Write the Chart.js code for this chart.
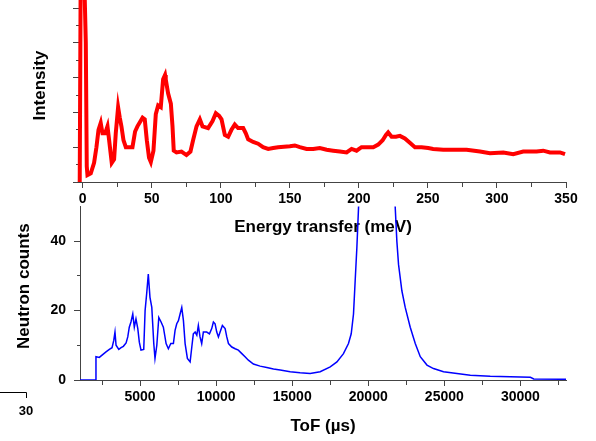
<!DOCTYPE html>
<html>
<head>
<meta charset="utf-8">
<script src="https://cdn.jsdelivr.net/npm/chart.js@4"></script>
<style>
  body { margin: 0; background: #fff; }
  #wrap { position: relative; width: 596px; height: 441px; }
  canvas { position: absolute; left: 0; }
  #chart1 { top: 0; }
  #chart2 { top: 190px; }
</style>
</head>
<body>
<div id="wrap">
  <canvas id="chart1" width="596" height="240"></canvas>
  <canvas id="chart2" width="596" height="251"></canvas>
</div>
<script>
// top panel: energy spectrum
var energy = [
  -2.2, -1.5, 1.0, 2.2, 2.9, 3.4, 5.8, 8.2, 9.9, 11.4,
  13.0, 14.3, 16.2, 17.9, 19.1, 21.0, 22.7, 23.9, 25.6, 26.8,
  28.0, 29.5, 31.2, 33.5, 36.0, 37.9, 39.6, 43.3, 44.9, 46.4,
  48.0, 49.3, 51.2, 52.9, 54.6, 56.5, 58.2, 59.6, 60.1, 61.8,
  63.8, 65.0, 65.9, 67.9, 71.5, 75.1, 78.0, 79.9, 82.4, 84.8,
  86.7, 90.8, 94.0, 96.4, 98.8, 100.5, 102.9, 105.3, 107.7, 110.1,
  112.5, 116.2, 118.1, 119.8, 123.4, 127.0, 130.6, 134.3, 137.9, 141.5,
  150.0, 153.6, 157.2, 162.1, 166.9, 171.7, 176.6, 181.4, 186.2, 191.1,
  194.7, 198.3, 201.9, 206.7, 210.4, 214.0, 217.2, 219.6, 221.2, 223.7,
  226.8, 229.7, 233.3, 236.9, 240.6, 245.4, 250.2, 253.8, 261.1, 268.3,
  278.0, 287.7, 294.9, 304.6, 311.8, 319.0, 328.7, 333.5, 338.4, 345.6,
  349.3
];
var intensity = [
  0.0, 12, 12, 8.0, 0.9, 0.4, 0.5, 1.1, 2.0, 3.0,
  3.4, 2.8, 2.8, 3.2, 2.4, 1.1, 1.3, 2.8, 4.3, 3.7,
  3.2, 2.4, 2.0, 2.0, 2.0, 2.9, 3.2, 3.7, 3.6, 2.4,
  1.4, 1.15, 1.8, 3.9, 4.4, 4.3, 5.9, 6.15, 5.9, 5.1,
  4.5, 3.2, 1.8, 1.7, 1.75, 1.55, 1.75, 2.4, 3.2, 3.6,
  3.2, 3.1, 3.5, 3.95, 3.8, 3.6, 2.7, 2.6, 3.0, 3.3,
  3.1, 3.1, 2.8, 2.45, 2.3, 2.2, 2.0, 1.9, 1.95, 2.0,
  2.05, 2.1, 2.0, 1.9, 1.9, 1.95, 1.85, 1.8, 1.75, 1.7,
  1.9, 1.8, 2.0, 2.0, 2.0, 2.15, 2.4, 2.7, 2.85, 2.6,
  2.6, 2.65, 2.5, 2.25, 2.0, 2.0, 1.95, 1.9, 1.85, 1.85,
  1.85, 1.75, 1.65, 1.7, 1.6, 1.75, 1.75, 1.8, 1.7, 1.7,
  1.6
];
var energyTicks = [0, 25, 50, 75, 100, 125, 150, 175, 200, 225, 250, 275, 300, 325, 350];
var intensityTicks = [0, 1, 2, 3, 4, 5, 6, 7, 8, 9, 10];

// bottom panel: raw time-of-flight spectrum
var tof = [
  1050, 2060, 2100, 2320, 2540, 2760, 2980, 3155, 3270, 3350,
  3420, 3600, 3750, 3900, 4080, 4190, 4290, 4400, 4520, 4620,
  4730, 4850, 4950, 5060, 5240, 5330, 5440, 5540, 5650, 5770,
  5900, 5980, 6100, 6230, 6380, 6530, 6710, 6860, 7020, 7190,
  7300, 7410, 7520, 7630, 7740, 7850, 7960, 8110, 8290, 8400,
  8500, 8620, 8730, 8830, 8940, 9050, 9160, 9380, 9560, 9710,
  9820, 9930, 10040, 10150, 10260, 10410, 10590, 10700, 10810, 11030,
  11250, 11460, 11690, 11900, 12120, 12450, 12890, 13330, 13770, 14210,
  14870, 15520, 16180, 16840, 17500, 17940, 18370, 18700, 18880, 19030,
  19140, 19250, 19360, 19450, 20600, 21700, 21770, 21880, 21990, 22210,
  22430, 22760, 23090, 23420, 23860, 24290, 24950, 25830, 26710, 28020,
  29340, 30660, 30880, 33000
];
var counts = [
  0, 0, 6.7, 6.5, 7.3, 8.1, 8.8, 9.3, 11.4, 13.8,
  10, 8.8, 9.3, 9.7, 10.7, 12.4, 15.2, 16.7, 19, 15.2,
  17.6, 14.8, 10.9, 8.6, 8.8, 20, 25.2, 30.5, 23.8, 20.9,
  10.5, 6.2, 10, 18, 16.7, 15.2, 10.5, 9, 10.5, 10.5,
  14.3, 16.2, 17.1, 19, 20.9, 17.1, 10.5, 6.2, 5.2, 9.5,
  13.3, 13.8, 12.9, 15.7, 12.4, 10.5, 13.8, 13.8, 13.3, 14.8,
  16.7, 16.2, 13.8, 12.4, 13.8, 15.7, 14.8, 12.4, 10.5, 9.5,
  9.0, 8.6, 7.6, 6.7, 5.7, 4.6, 4.0, 3.6, 3.2, 2.9,
  2.4, 2.1, 1.9, 2.4, 3.8, 5.2, 7.6, 10.5, 13.3, 19,
  28.6, 38, 49.5, 60, 120, 60, 50, 40, 33.3, 25.7,
  20.9, 15.2, 10.5, 6.7, 4.3, 3.3, 2.4, 1.9, 1.4, 1.1,
  0.95, 0.8, 0.3, 0.2
];
var tofTicks = [2500, 5000, 7500, 10000, 12500, 15000, 17500, 20000, 22500, 25000, 27500, 30000, 32500];
var countTicks = [0, 10, 20, 30, 40];

var fontFamily = '"Liberation Sans", Arial, sans-serif';
var axisColor = '#444';
var nb = '\u00a0';

Chart.defaults.animation = false;
Chart.defaults.font.family = fontFamily;
Chart.defaults.color = '#000';

function toPoints(xs, ys) {
  return xs.map((x, i) => ({ x: x, y: ys[i] }));
}

// minor ticks: short marks drawn on the axis side only
function minorDash(isMinor, len, full, fromOuter) {
  return ctx => {
    if (!ctx.tick || !isMinor(ctx.tick.value)) return [];
    return fromOuter ? [0, full - len, len, 100] : [len, 100];
  };
}

let chart1 = document.getElementById('chart1').getContext('2d');
let topChart = new Chart(chart1, {
  type: 'line',
  data: {
    datasets: [
      {
        data: toPoints(energy, intensity),
        borderColor: '#ff0000',
        borderWidth: 4,
        pointRadius: 0,
        tension: 0,
        clip: false
      }
    ]
  },
  options: {
    responsive: false,
    layout: { padding: { top: 8, right: 30, left: 0, bottom: 0 } },
    plugins: { legend: { display: false }, tooltip: { enabled: false } },
    scales: {
      x: {
        type: 'linear',
        min: -2,
        max: 350,
        afterBuildTicks: s => { s.ticks = energyTicks.map(v => ({ value: v })); },
        afterFit: s => { s.height = 58; },
        ticks: {
          autoSkip: false,
          maxRotation: 0,
          padding: 3,
          font: { size: 14, weight: 'bold' },
          callback: v => (v % 50 === 0 ? v : '')
        },
        grid: {
          drawOnChartArea: false,
          tickLength: 6,
          tickColor: axisColor,
          tickBorderDash: minorDash(v => v % 50 !== 0, 4, 6, false)
        },
        border: { color: axisColor },
        title: {
          display: true,
          text: 'Energy transfer (meV)',
          font: { size: 17, weight: 'bold' },
          padding: { top: 0, bottom: 2 }
        }
      },
      y: {
        min: 0,
        max: 10,
        afterBuildTicks: s => { s.ticks = intensityTicks.map(v => ({ value: v })); },
        afterFit: s => { s.width = 80; },
        ticks: { display: false },
        grid: {
          drawOnChartArea: false,
          tickLength: 7,
          tickColor: axisColor,
          tickBorderDash: minorDash(v => v % 2 !== 0, 4, 7, true)
        },
        border: { color: axisColor },
        title: {
          display: true,
          // leading spaces lift the centred label a little, as in the original
          text: nb.repeat(4) + 'Intensity',
          font: { size: 17, weight: 'bold' },
          padding: { top: 30, bottom: 0 }
        }
      }
    }
  }
});

// stray axis fragment in the lower left corner of the original figure
const cornerMark = {
  id: 'cornerMark',
  afterDraw(chart) {
    const ctx = chart.ctx;
    ctx.save();
    ctx.strokeStyle = '#000';
    ctx.lineWidth = 1;
    ctx.beginPath();
    ctx.moveTo(0, 202.5);
    ctx.lineTo(26.5, 202.5);
    ctx.lineTo(26.5, 208);
    ctx.stroke();
    ctx.fillStyle = '#000';
    ctx.font = 'bold 13px ' + fontFamily;
    ctx.textAlign = 'center';
    ctx.textBaseline = 'middle';
    ctx.fillText('30', 26, 221);
    ctx.restore();
  }
};

let chart2 = document.getElementById('chart2').getContext('2d');
let bottomChart = new Chart(chart2, {
  type: 'line',
  data: {
    datasets: [
      {
        data: toPoints(tof, counts),
        borderColor: '#0000ff',
        borderWidth: 1.5,
        pointRadius: 0,
        tension: 0
      }
    ]
  },
  options: {
    responsive: false,
    layout: { padding: { top: 15, right: 30, left: 0, bottom: 0 } },
    plugins: { legend: { display: false }, tooltip: { enabled: false } },
    scales: {
      x: {
        type: 'linear',
        min: 1050,
        max: 33000,
        afterBuildTicks: s => { s.ticks = tofTicks.map(v => ({ value: v })); },
        afterFit: s => { s.height = 61; },
        ticks: {
          autoSkip: false,
          maxRotation: 0,
          padding: 3,
          font: { size: 14, weight: 'bold' },
          callback: v => (v % 5000 === 0 ? v : '')
        },
        grid: {
          drawOnChartArea: false,
          tickLength: 6,
          tickColor: axisColor,
          tickBorderDash: minorDash(v => v % 5000 !== 0, 4, 6, false)
        },
        border: { color: axisColor },
        title: {
          display: true,
          text: 'ToF (µs)',
          font: { size: 17, weight: 'bold' },
          padding: { top: 0, bottom: 4 }
        }
      },
      y: {
        min: 0,
        max: 50,
        afterBuildTicks: s => { s.ticks = countTicks.map(v => ({ value: v })); },
        afterFit: s => { s.width = 80; },
        ticks: {
          padding: 8,
          font: { size: 14, weight: 'bold' },
          callback: v => (v % 20 === 0 ? v : '')
        },
        grid: {
          drawOnChartArea: false,
          tickLength: 6,
          tickColor: axisColor,
          tickBorderDash: minorDash(v => v % 20 !== 0, 3, 6, true)
        },
        border: { color: axisColor },
        title: {
          display: true,
          text: nb.repeat(3) + 'Neutron counts',
          font: { size: 17, weight: 'bold' },
          padding: { top: 14, bottom: 0 }
        }
      }
    }
  },
  plugins: [cornerMark]
});
</script>
</body>
</html>
